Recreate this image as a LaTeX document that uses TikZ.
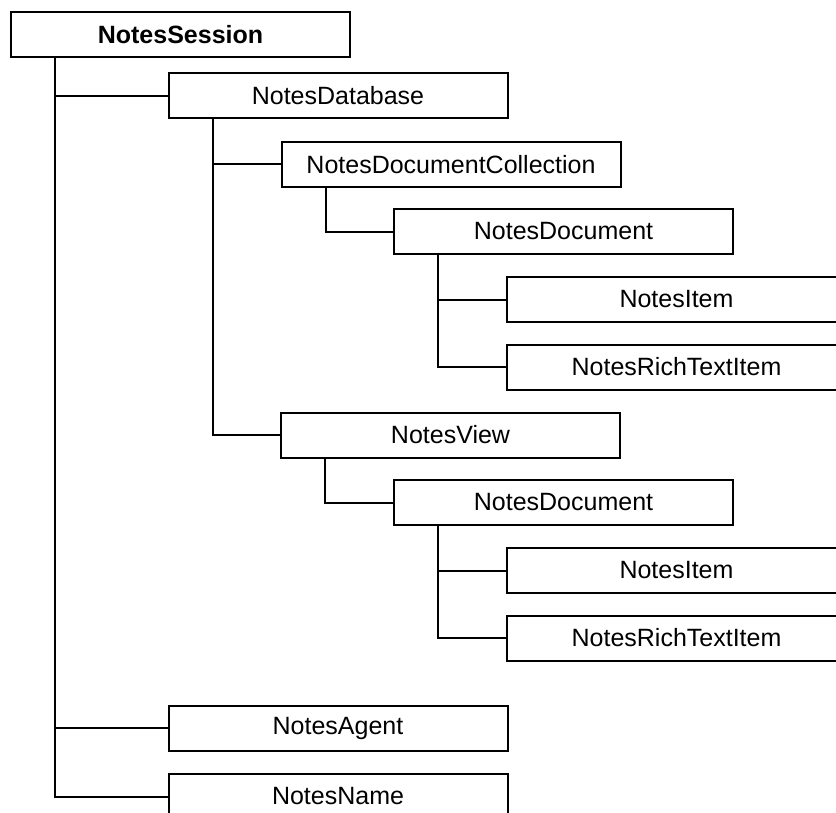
\documentclass[tikz,border=0pt]{standalone}
\usepackage{fontspec}
\setmainfont{Liberation Sans}
\usetikzlibrary{calc}

\tikzset{
  classbox/.style={draw=black, line width=1pt, fill=white, inner sep=0pt,
    minimum width=169.5pt, minimum height=22.5pt,
    font=\fontsize{12.5}{15}\selectfont},
  link/.style={line width=1pt, black}
}

\begin{document}
\begin{tikzpicture}[x=0.5pt,y=-0.5pt]
        \useasboundingbox (0,0) rectangle (836,813);
        \clip (0,0) rectangle (836,813);
        \node[classbox,font=\fontsize{12.5}{15}\selectfont\bfseries] (session) at (180.5,35)  {NotesSession};
        \node[classbox] (db)    at (338,96)    {NotesDatabase};
        \node[classbox] (coll)  at (451,164.5) {NotesDocumentCollection};
        \node[classbox] (doca)  at (563.5,231.5) {NotesDocument};
        \node[classbox] (itema) at (676.5,299.5) {NotesItem};
        \node[classbox] (richa) at (676.5,367)   {NotesRichTextItem};
        \node[classbox] (view)  at (450.5,435)   {NotesView};
        \node[classbox] (docb)  at (563.5,502.5) {NotesDocument};
        \node[classbox] (itemb) at (676.5,570.5) {NotesItem};
        \node[classbox] (richb) at (676.5,638)   {NotesRichTextItem};
        \node[classbox] (agent) at (338,728)     {NotesAgent};
        \node[classbox] (name)  at (338,796.5)   {NotesName};
        \draw[link] ($(session.south west)+(45,0)$) |- (db.west);
        \draw[link] ($(session.south west)+(45,0)$) |- (agent.west);
        \draw[link] ($(session.south west)+(45,0)$) |- (name.west);
        \draw[link] ($(db.south west)+(45,0)$) |- (coll.west);
        \draw[link] ($(db.south west)+(45,0)$) |- (view.west);
        \draw[link] ($(coll.south west)+(45,0)$) |- (doca.west);
        \draw[link] ($(doca.south west)+(45,0)$) |- (itema.west);
        \draw[link] ($(doca.south west)+(45,0)$) |- (richa.west);
        \draw[link] ($(view.south west)+(45,0)$) |- (docb.west);
        \draw[link] ($(docb.south west)+(45,0)$) |- (itemb.west);
        \draw[link] ($(docb.south west)+(45,0)$) |- (richb.west);
      \end{tikzpicture}
\end{document}
